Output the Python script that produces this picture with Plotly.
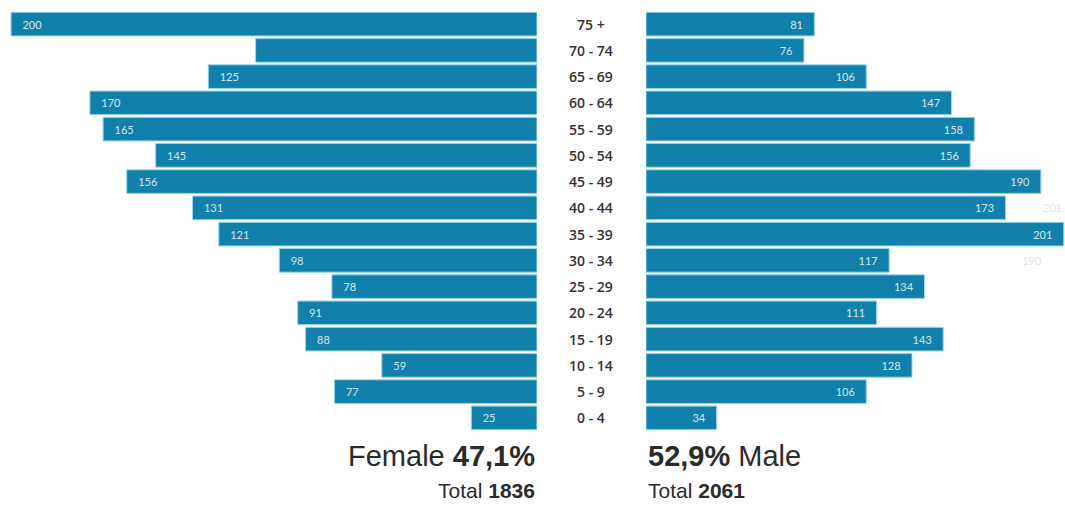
import plotly.graph_objects as go

age_groups = ["75 +", "70 - 74", "65 - 69", "60 - 64", "55 - 59", "50 - 54", "45 - 49",
              "40 - 44", "35 - 39", "30 - 34", "25 - 29", "20 - 24", "15 - 19",
              "10 - 14", "5 - 9", "0 - 4"]
female = [200, 107, 125, 170, 165, 145, 156, 131, 121, 98, 78, 91, 88, 59, 77, 25]
female_labels = ["200", "", "125", "170", "165", "145", "156", "131", "121", "98",
                 "78", "91", "88", "59", "77", "25"]
male = [81, 76, 106, 147, 158, 156, 190, 173, 201, 117, 134, 111, 143, 128, 106, 34]
male_labels = [str(v) for v in male]

female_share = "47,1%"
male_share = "52,9%"
female_total = "1836"
male_total = "2061"

BAR = "#1180aa"
EDGE = "#9ad6ee"
LBL = "#d4e8f1"
PAD = "\u00a0\u00a0\u00a0"

W, H = 1065, 506
ML, MR, MT, MB = 0, 0, 11, 75
PH = H - MT - MB

fig = go.Figure()
fig.add_trace(go.Bar(
    y=age_groups, x=female, orientation="h", xaxis="x", yaxis="y",
    marker=dict(color=BAR, line=dict(color=EDGE, width=1)),
    text=[(PAD + t) if t else "" for t in female_labels],
    textposition="inside", insidetextanchor="end",
    textfont=dict(color=LBL, size=11, family="Lato"), textangle=0,
    hoverinfo="x+y", showlegend=False,
))
fig.add_trace(go.Bar(
    y=age_groups, x=male, orientation="h", xaxis="x2", yaxis="y",
    marker=dict(color=BAR, line=dict(color=EDGE, width=1)),
    text=[t + PAD for t in male_labels],
    textposition="inside", insidetextanchor="end",
    textfont=dict(color=LBL, size=11, family="Lato"), textangle=0,
    hoverinfo="x+y", showlegend=False,
))

fem_end = 537 / W
male_start = 646 / W

annotations = []
for g in age_groups:
    annotations.append(dict(
        x=591 / W, xref="paper", y=g, yref="y", text=g, showarrow=False,
        xanchor="center", yanchor="middle",
        font=dict(family="Open Sans", size=14, color="#333333", weight=600),
    ))

# faint ghost labels visible in the source image
annotations.append(dict(x=1064 / W, xref="paper", y="40 - 44", yref="y", text="201",
                        showarrow=False, xanchor="right",
                        font=dict(family="Lato", size=11, color="#e2e2e2")))
annotations.append(dict(x=1032 / W, xref="paper", y="30 - 34", yref="y", text="190",
                        showarrow=False, xanchor="center",
                        font=dict(family="Lato", size=11, color="#e2e2e2")))

def py(pix):
    return (H - MB - pix) / PH

annotations.append(dict(
    x=fem_end, xref="paper", y=py(456), yref="paper", xanchor="right", yanchor="middle",
    text=f"Female <b>{female_share}</b>", showarrow=False,
    font=dict(family="Liberation Sans", size=29, color="#2b2b2b"),
))
annotations.append(dict(
    x=fem_end, xref="paper", y=py(490), yref="paper", xanchor="right", yanchor="middle",
    text=f"Total <b>{female_total}</b>", showarrow=False,
    font=dict(family="Liberation Sans", size=21, color="#2b2b2b"),
))
annotations.append(dict(
    x=male_start, xref="paper", y=py(456), yref="paper", xanchor="left", yanchor="middle",
    text=f"<b>{male_share}</b> Male", showarrow=False,
    font=dict(family="Liberation Sans", size=29, color="#2b2b2b"),
))
annotations.append(dict(
    x=male_start, xref="paper", y=py(490), yref="paper", xanchor="left", yanchor="middle",
    text=f"Total <b>{male_total}</b>", showarrow=False,
    font=dict(family="Liberation Sans", size=21, color="#2b2b2b"),
))

fig.update_layout(
    width=W, height=H,
    margin=dict(l=ML, r=MR, t=MT, b=MB),
    paper_bgcolor="white", plot_bgcolor="white",
    bargap=0.1,
    xaxis=dict(domain=[0, fem_end], range=[537 / 2.63, 0], visible=False, fixedrange=True),
    xaxis2=dict(domain=[male_start, 1], range=[0, 201.6], visible=False, fixedrange=True),
    yaxis=dict(categoryorder="array", categoryarray=age_groups, range=[15.5, -0.5],
               visible=False, fixedrange=True),
    annotations=annotations,
)

fig.write_html("out.html", config={"displayModeBar": False},
               post_script="document.body.style.margin='0px';document.body.style.overflow='hidden';")
